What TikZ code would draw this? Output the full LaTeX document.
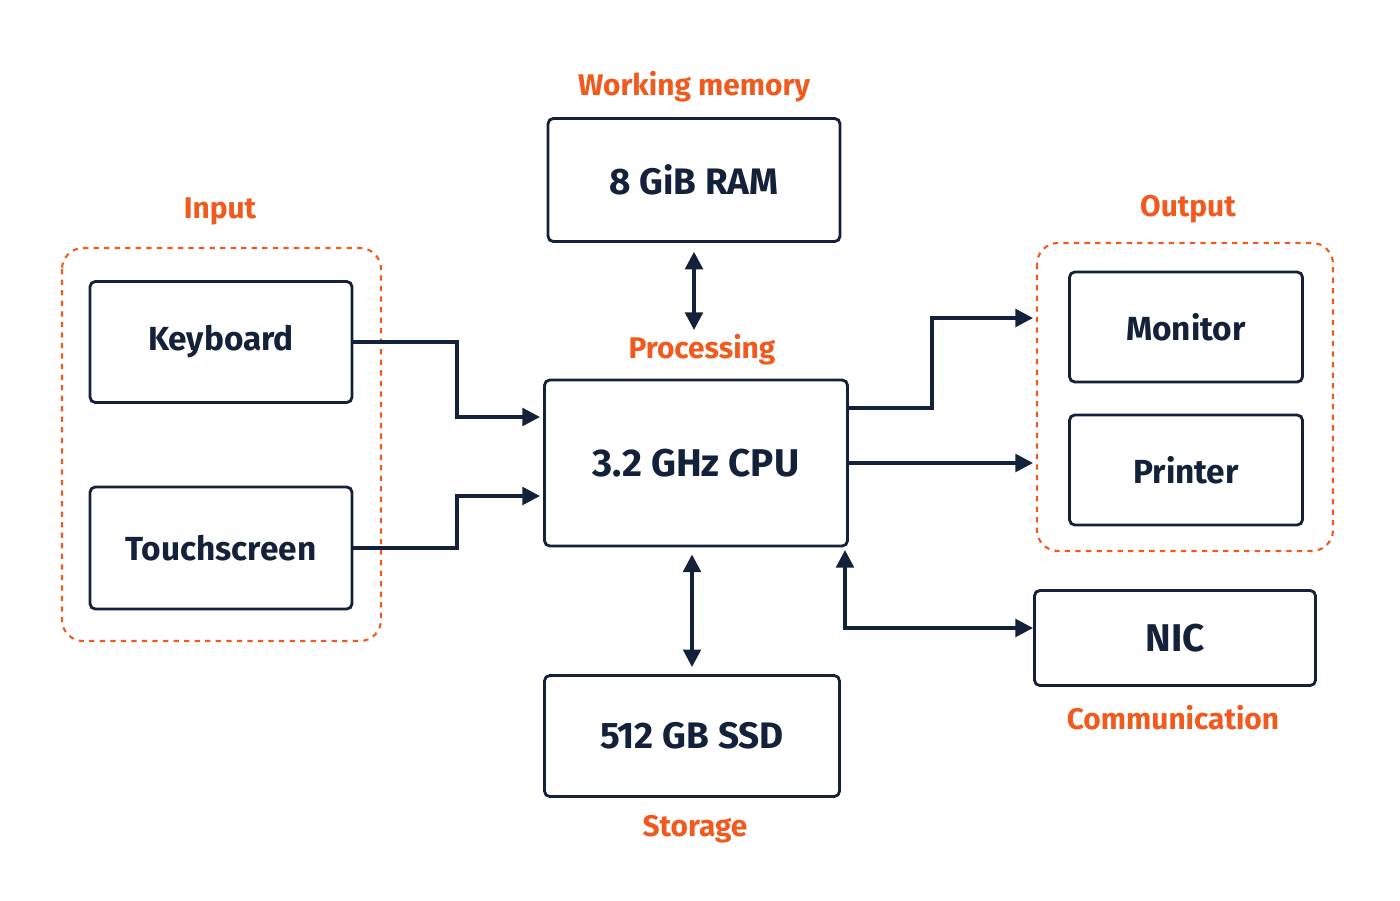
\documentclass[tikz,border=0pt]{standalone}
\usepackage{fontspec}
\setmainfont{Fira Sans}
\usetikzlibrary{arrows.meta}
\definecolor{nav}{HTML}{14213A}
\definecolor{org}{HTML}{F05A1E}
\tikzset{
 box/.style={draw=nav,line width=1.6pt,rounded corners=3pt,text=nav,font=\fontsize{19}{22}\selectfont\bfseries},
 grp/.style={draw=org,dashed,line width=1.2pt,rounded corners=12pt},
 lab/.style={text=org,font=\fontsize{17}{20}\selectfont\bfseries},
 con/.style={draw=nav,line width=2pt,-{Triangle[length=10pt,width=10pt]}},
 bcon/.style={draw=nav,line width=2pt,{Triangle[length=10pt,width=10pt]}-{Triangle[length=10pt,width=10pt]}}
}
\begin{document}
\begin{tikzpicture}[x=0.02cm,y=-0.02cm]
\useasboundingbox (0,0) rectangle (1400,900);
\draw[grp] (62,248) rectangle (381,641);
\draw[grp] (1037,243) rectangle (1333,551);
\node[box,minimum width=292*0.02cm,minimum height=123*0.02cm,font=\fontsize{21}{24}\selectfont\bfseries] (ram) at (694,180) {8 GiB RAM};
\node[box,minimum width=303*0.02cm,minimum height=166*0.02cm,font=\fontsize{22}{26}\selectfont\bfseries] (cpu) at (696,463) {3.2 GHz CPU};
\node[box,minimum width=295*0.02cm,minimum height=121*0.02cm,font=\fontsize{21}{24}\selectfont\bfseries] (ssd) at (692,736) {512 GB SSD};
\node[box,minimum width=262*0.02cm,minimum height=121*0.02cm] (kb) at (221,342) {Keyboard};
\node[box,minimum width=262*0.02cm,minimum height=122*0.02cm] (ts) at (221,548) {Touchscreen};
\node[box,minimum width=233*0.02cm,minimum height=110*0.02cm] (mon) at (1186,327) {Monitor};
\node[box,minimum width=233*0.02cm,minimum height=110*0.02cm] (prn) at (1186,470) {Printer};
\node[box,minimum width=281*0.02cm,minimum height=95*0.02cm,font=\fontsize{22}{26}\selectfont\bfseries] (nic) at (1175,638) {NIC};
\node[lab] (l1) at (694,87) {Working memory};
\node[lab] (l2) at (220,211) {Input};
\node[lab] (l3) at (1188,209) {Output};
\node[lab] (l4) at (702,350) {Processing};
\node[lab] (l5) at (1173,718) {Communication};
\node[lab] (l6) at (695,829) {Storage};
\coordinate (k1) at (540,417);
\coordinate (t1) at (540,496);
\coordinate (m1) at (1033,318);
\coordinate (p1) at (1033,463);
\coordinate (n1) at (1033,628);
\draw[con] (kb.east) -- (457,342) -- (457,417) -- (k1);
\draw[con] (ts.east) -- (457,548) -- (457,496) -- (t1);
\draw[con] (cpu.east |- 0,408) -- (932,408) -- (932,318) -- (m1);
\draw[con] (cpu.east) -- (p1);
\draw[bcon] ([yshift=-5pt]ram.south) -- (694,330);
\draw[bcon] ([yshift=-4pt]cpu.south -| ssd.north) -- ([yshift=4pt]ssd.north);
\draw[bcon] (n1) -- (845,628) -- (845,550);
\end{tikzpicture}
\end{document}
